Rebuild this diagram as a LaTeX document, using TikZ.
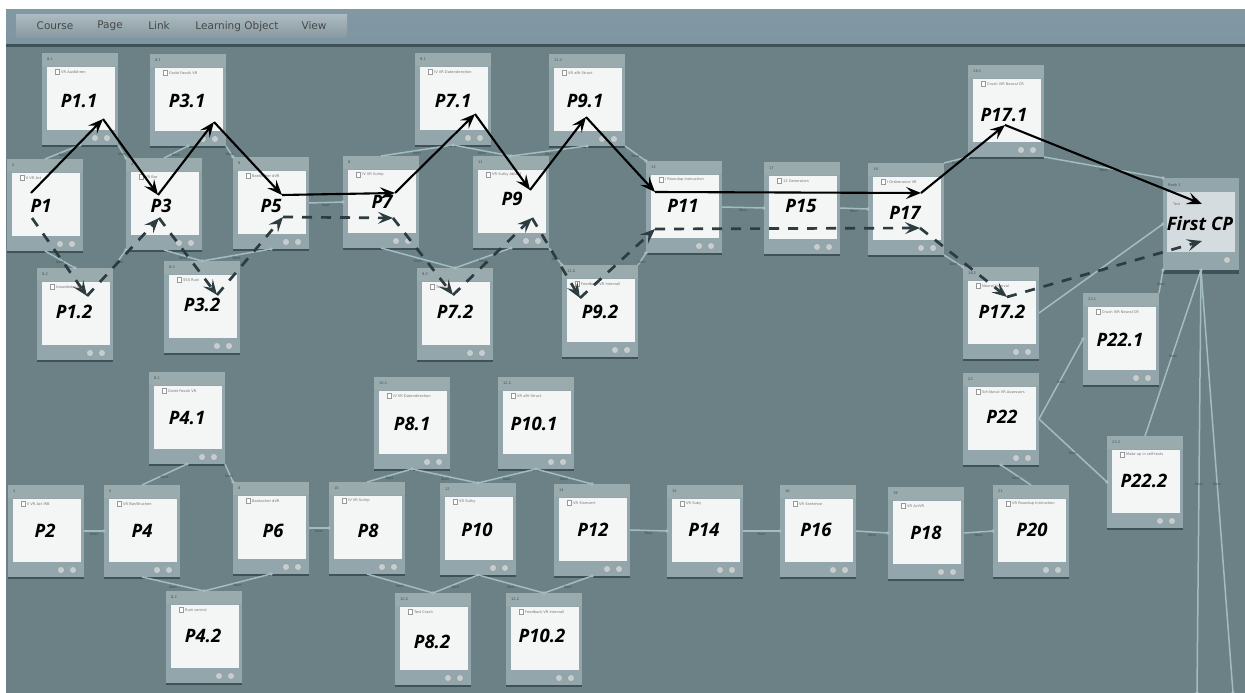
\documentclass[tikz,border=0pt]{standalone}
\usepackage{fontspec}
\setmainfont{DejaVu Sans}
\newfontfamily\cardfont{Open Sans}
\usetikzlibrary{arrows.meta,calc}
\definecolor{bgc}{HTML}{6B8186}
\definecolor{cardc}{HTML}{93A6AB}
\definecolor{headc}{HTML}{9AABAD}
\definecolor{shadc}{HTML}{3F5257}
\definecolor{linkc}{HTML}{A3BCC0}
\definecolor{dashc}{HTML}{2C3C40}
\definecolor{pagec}{HTML}{F4F5F5}
\definecolor{btnc}{HTML}{C3CED1}
\definecolor{bartop}{HTML}{8298A3}
\definecolor{barbot}{HTML}{7E96A2}
\definecolor{menutop}{HTML}{ACBAC0}
\definecolor{menubot}{HTML}{8698A0}
\definecolor{cppage}{HTML}{D5DCDF}
\tikzset{
  cardbody/.style={anchor=north west,fill=cardc,minimum width=76pt,minimum height=92pt,inner sep=0pt,outer sep=0pt},
  cardpage/.style={anchor=north west,fill=pagec,minimum width=68pt,minimum height=63pt,inner sep=0pt},
  cardlabel/.style={font=\cardfont\fontsize{18.5}{18.5}\selectfont\bfseries\itshape,text=black,inner sep=0pt},
  cardhead/.style={anchor=west,font=\fontsize{3.6}{4}\selectfont,text=shadc,inner sep=0pt},
  cardtitle/.style={anchor=west,font=\fontsize{3.6}{4}\selectfont,text=black!55,inner sep=0pt},
  cardbtn/.style={circle,fill=btnc,draw=black!40,line width=.5pt,minimum size=7pt,inner sep=0pt},
  link/.style={draw=linkc,line width=1.5pt},
  elab/.style={font=\fontsize{3.4}{4}\selectfont,text=shadc,inner sep=1pt},
  menutext/.style={font=\fontsize{10.5}{11}\selectfont,text=black!72,inner sep=0pt},
  solidpath/.style={draw=black,line width=2.1pt,-{Stealth[length=15pt,width=12pt,inset=6pt]}},
  dashpath/.style={draw=dashc,line width=2.7pt,dash pattern=on 10pt off 9pt,-{Stealth[length=15pt,width=12pt,inset=6pt]}}
}
% name, x, y, label x, label y, label, header, title
\newcommand{\pagecard}[8]{%
  \fill[shadc] (#2,{#3+90}) rectangle ({#2+76},{#3+94});
  \node[cardbody] (#1) at (#2,#3) {};
  \fill[headc] (#2,#3) rectangle ({#2+76},{#3+13});
  \node[cardpage] (#1-page) at ({#2+4.5},{#3+14}) {};
  \node[cardhead] (#1-head) at ({#2+5},{#3+6}) {#7};
  \draw[black!40,line width=.4pt,fill=white] ({#2+13},{#3+16}) rectangle ({#2+17},{#3+21});
  \node[cardtitle] (#1-title) at ({#2+19},{#3+19}) {#8};
  \node[cardbtn] (#1-b1) at ({#2+53},{#3+85}) {};
  \node[cardbtn] (#1-b2) at ({#2+65},{#3+85}) {};
  \node[cardlabel] (#1-label) at (#4,#5) {#6};
}
\newcommand{\lnk}[2]{\path[link] (#1) -- (#2) node[elab,midway,below] {Next};
  \fill[linkc] (#2) circle (1.8pt);}
\begin{document}
\begin{tikzpicture}[x=1pt,y=-1pt]
\useasboundingbox (0,0) rectangle (1245,693);
\fill[white] (0,0) rectangle (1245,693);
\fill[bgc] (6,10) rectangle (1245,693);
% menu bar
\shade[top color=bartop,bottom color=barbot] (6,10) rectangle (1245,44);
\fill[shadc] (6,44) rectangle (1245,47);
\shade[top color=menutop,bottom color=menubot] (16,15) rectangle (347,38);
\node[menutext] (mCourse) at (55,26) {Course};
\node[menutext] (mPage) at (110,26) {Page};
\node[menutext] (mLink) at (159,26) {Link};
\node[menutext] (mLO) at (237,26.5) {Learning Object};
\node[menutext] (mView) at (314,26) {View};
% cards
\pagecard{P1u}{42}{53}{79}{101}{P1.1}{8.1}{VR Ausführen}
\pagecard{P3u}{150}{54}{187}{101}{P3.1}{8.1}{Grobt Fassik VR}
\pagecard{P1}{7}{159}{41}{206}{P1}{2}{II VR Act}
\pagecard{P3}{126}{158}{161}{206}{P3}{4}{VR Bar}
\pagecard{P5}{233}{157}{271}{206}{P5}{6}{Bankscher dVR}
\pagecard{P7}{343}{156}{382}{202}{P7}{8}{IV VR Sutrip}
\pagecard{P1d}{37}{268}{74}{312}{P1.2}{8.2}{Inauslöster VR}
\pagecard{P3d}{164}{261}{202}{305}{P3.2}{8.2}{SSS Rust}
\pagecard{P7u}{415}{53}{453}{101}{P7.1}{9.1}{IV VR Datendirection}
\pagecard{P9u}{549}{54}{585}{101}{P9.1}{11.1}{VR aRt Struct}
\pagecard{P9}{473}{156}{512}{199}{P9}{11}{VR Sutky Ablauf}
\pagecard{P11}{646}{161}{683}{206}{P11}{13}{I Roundup Instruction}
\pagecard{P15}{764}{162}{801}{206}{P15}{17}{13 Generators}
\pagecard{P17}{868}{163}{905}{213}{P17}{18}{I Ordnerance VR}
\pagecard{P7d}{417}{268}{455}{312}{P7.2}{9.2}{Test}
\pagecard{P9d}{562}{265}{600}{312}{P9.2}{11.2}{Feedback VR Intervall}
\pagecard{P17u}{968}{65}{1004}{115}{P17.1}{18.1}{Crush VIR Neural CR}
\pagecard{P17d}{963}{267}{1002}{312}{P17.2}{18.2}{Neural Interval}
\pagecard{P22u}{1083}{293}{1120}{340}{P22.1}{22.1}{Crush VIR Neural CR}
\pagecard{P22}{963}{373}{1002}{417}{P22}{22}{Schlitzcut VR Assessors}
\pagecard{P20}{993}{485}{1032}{530}{P20}{21}{VR Roundup Instruction}
\pagecard{P22d}{1107}{436}{1144}{481}{P22.2}{22.2}{Make up in self-tests}
\pagecard{P4u}{149}{372}{187}{418}{P4.1}{8.1}{Grobt Fassik VR}
\pagecard{P2}{8}{485}{45}{531}{P2}{3}{II VR Act IRB}
\pagecard{P4}{104}{485}{142}{531}{P4}{5}{VR Bar/Bruchen}
\pagecard{P6}{233}{482}{273}{531}{P6}{8}{Bankscher dVR}
\pagecard{P8}{329}{482}{368}{531}{P8}{10}{IV VR Sutrip}
\pagecard{P4d}{166}{591}{203}{636}{P4.2}{8.2}{Rust control}
\pagecard{P8u}{374}{377}{412}{424}{P8.1}{10.1}{IV VR Datendirection}
\pagecard{P10u}{498}{377}{534}{424}{P10.1}{12.1}{VR aRt Struct}
\pagecard{P10}{440}{483}{477}{530}{P10}{12}{VR Sutky}
\pagecard{P12}{554}{484}{593}{530}{P12}{14}{VR Slamvert}
\pagecard{P14}{667}{485}{704}{530}{P14}{15}{VR Suby}
\pagecard{P16}{780}{485}{816}{530}{P16}{16}{VR Sentence}
\pagecard{P18}{888}{487}{926}{533}{P18}{19}{VR ActVR}
\pagecard{P8d}{395}{593}{432}{642}{P8.2}{10.2}{Test Crash}
\pagecard{P10d}{506}{593}{542}{636}{P10.2}{12.2}{Feedback VR Intervall}
% First CP
\fill[shadc] (1163,270) rectangle (1239,274);
\node[cardbody] (CP) at (1163,178) {};
\node[anchor=north west,fill=cppage,minimum width=68pt,minimum height=60pt,inner sep=0pt] (CP-page) at (1167,192) {};
\node[cardhead] (CP-head) at (1168,185) {Rank 1};
\node[cardtitle] (CP-title) at (1173,204) {Test};
\node[cardbtn] (CP-b) at (1227,260) {};
\node[cardlabel] (CP-label) at (1200,224) {First CP};
% free ends of the two links leaving the picture
\coordinate (off1) at (1197,693);
\coordinate (off2) at (1233,693);
% links: upper chain
\lnk{P1.north}{P1u.south}
\lnk{P1u.south east}{P3.north west}
\lnk{P3.north}{P3u.south}
\lnk{P3u.south east}{P5.north west}
\lnk{P1.south}{P1d.north}
\lnk{P1d.north east}{P3.south west}
\lnk{P3.south}{P3d.north}
\lnk{P3d.north}{P5.south}
\lnk{P5.east}{P7.west}
\lnk{P7.north}{P7u.south}
\lnk{P7u.south}{P9.north}
\lnk{P9.north}{P9u.south}
\lnk{P9u.south east}{P11.north west}
\lnk{P7.south}{P7d.north}
\lnk{P7d.north}{P9.south}
\lnk{P9.south east}{P9d.north west}
\lnk{P9d.north east}{P11.south west}
\lnk{P11.east}{P15.west}
\lnk{P15.east}{P17.west}
\lnk{P17.north east}{P17u.south west}
\lnk{P17u.south east}{CP.north west}
\lnk{P17.south east}{P17d.north west}
\lnk{P17d.east}{CP.west}
\lnk{P22u.north east}{CP.south west}
\lnk{P22.east}{P22u.west}
\lnk{P22.east}{P22d.west}
\lnk{P22d.north}{CP.south}
\lnk{CP.south}{off1}
\lnk{CP.south}{off2}
\lnk{P20.north}{P22.south}
% links: lower chain
\lnk{P2.east}{P4.west}
\lnk{P4.north}{P4u.south}
\lnk{P4u.south east}{P6.north west}
\lnk{P4.south}{P4d.north}
\lnk{P4d.north}{P6.south}
\lnk{P6.east}{P8.west}
\lnk{P8.north}{P8u.south}
\lnk{P8u.south}{P10.north}
\lnk{P10.north}{P10u.south}
\lnk{P10u.south}{P12.north}
\lnk{P8.south}{P8d.north}
\lnk{P8d.north}{P10.south}
\lnk{P10.south}{P10d.north}
\lnk{P10d.north}{P12.south}
\lnk{P12.east}{P14.west}
\lnk{P14.east}{P16.west}
\lnk{P16.east}{P18.west}
\lnk{P18.east}{P20.west}
% solid route
\coordinate (s0) at (31,193);
\coordinate (s1) at (103,119);
\coordinate (s2) at (158,195);
\coordinate (s3) at (214,122);
\coordinate (s4) at (282,195);
\coordinate (s5) at (395,193);
\coordinate (s6) at (475,114);
\coordinate (s7) at (530,190);
\coordinate (s8) at (586,117);
\coordinate (s9) at (655,192);
\coordinate (s10) at (921,193);
\coordinate (s11) at (1005,125);
\coordinate (s12) at (1202,204);
\foreach \a/\b in {s0/s1,s1/s2,s2/s3,s3/s4,s4/s5,s5/s6,s6/s7,s7/s8,s8/s9,s9/s10,s10/s11,s11/s12}
  \path[solidpath] (\a) -- (\b);
% dashed route
\coordinate (d0) at (32,218);
\coordinate (d1) at (87,296);
\coordinate (d2) at (159,218);
\coordinate (d3) at (217,295);
\coordinate (d4) at (283,217);
\coordinate (d5) at (393,218);
\coordinate (d6) at (453,295);
\coordinate (d7) at (532,218);
\coordinate (d8) at (580,298);
\coordinate (d9) at (655,229);
\coordinate (d10) at (920,228);
\coordinate (d11) at (1007,297);
\coordinate (d12) at (1202,241);
\foreach \a/\b in {d0/d1,d1/d2,d2/d3,d3/d4,d4/d5,d5/d6,d6/d7,d7/d8,d8/d9,d9/d10,d10/d11,d11/d12}
  \path[dashpath] (\a) -- (\b);
\end{tikzpicture}
\end{document}
